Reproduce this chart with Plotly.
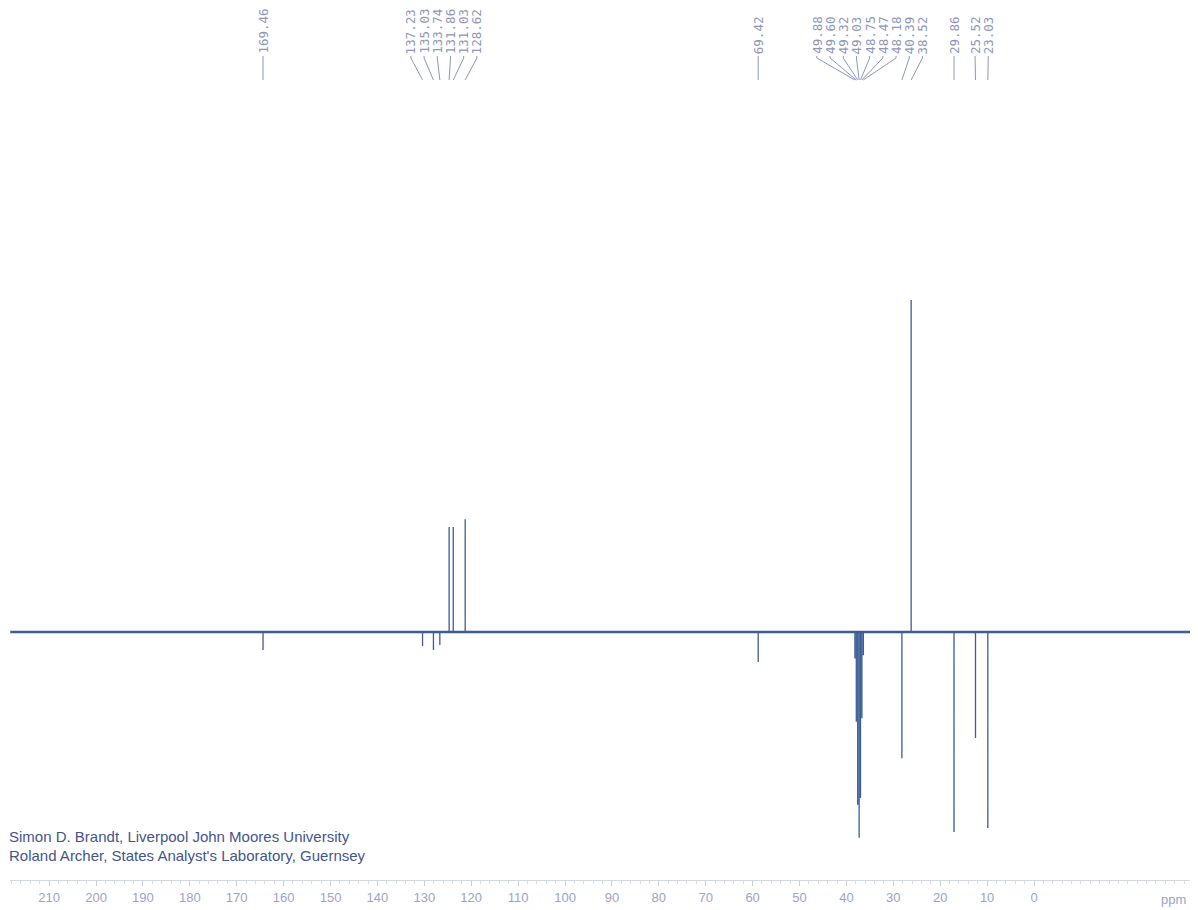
import plotly.graph_objects as go

# ---------------- data ----------------
# labelled peaks (ppm) and relative intensities (tallest = 100; negative = inverted DEPT signals)
peak_ppm = [169.46, 137.23, 135.03, 133.74, 131.86, 131.03, 128.62, 69.42,
            49.88, 49.60, 49.32, 49.03, 48.75, 48.47, 48.18, 40.39, 38.52,
            29.86, 25.52, 23.03]
peak_int = [-5.4, -4.2, -5.4, -3.9, 31.6, 31.6, 34.0, -9.0,
            -8.0, -27.0, -52.0, -62.0, -50.0, -26.0, -7.0, -38.0, 100.0,
            -60.2, -31.9, -59.0]
peak_labels = ["169.46", "137.23", "135.03", "133.74", "131.86", "131.03", "128.62", "69.42",
               "49.88", "49.60", "49.32", "49.03", "48.75", "48.47", "48.18", "40.39", "38.52",
               "29.86", "25.52", "23.03"]
spectral_window = [220.5, -17.8]          # ppm limits of the recorded spectrum
scale_ticks = [210, 200, 190, 180, 170, 160, 150, 140, 130, 120, 110,
               100, 90, 80, 70, 60, 50, 40, 30, 20, 10, 0]
credits = ["Simon D. Brandt, Liverpool John Moores University",
           "Roland Archer, States Analyst's Laboratory, Guernsey"]

# ---------------- layout constants ----------------
OFF = 8                      # page body margin
W, H = 1190, 902
X_RANGE = [220.98, -19.43]       # data axis (ppm)
SCALE_RANGE = [218.34, -33.26]   # printed scale axis
Y_RANGE = [-83.73, 187.95]
LINE_COL = "#3d5d96"
LABEL_COL = "#8e97b8"
TICK_COL = "#9aa3cc"


def py(y_screen):
    return 1 - (y_screen - OFF) / H


def px(x_screen):
    return (x_screen - OFF) / W


# ---------------- spectrum as stick line ----------------
order = sorted(range(len(peak_ppm)), key=lambda i: -peak_ppm[i])
sx, sy = [spectral_window[0]], [0]
for i in order:
    sx += [peak_ppm[i], peak_ppm[i], peak_ppm[i]]
    sy += [0, peak_int[i], 0]
sx.append(spectral_window[1]); sy.append(0)

fig = go.Figure()
fig.add_trace(go.Scatter(x=spectral_window, y=[0, 0], mode="lines",
                         line=dict(color=LINE_COL, width=2.6), hoverinfo="skip",
                         showlegend=False))
fig.add_trace(go.Scatter(x=sx, y=sy, mode="lines",
                         line=dict(color=LINE_COL, width=1.3), showlegend=False))
# invisible trace for the printed scale axis
fig.add_trace(go.Scatter(x=[scale_ticks[0], scale_ticks[-1]], y=[0, 0], xaxis="x2",
                         mode="markers", marker=dict(opacity=0), hoverinfo="skip",
                         showlegend=False))

# ---------------- label spreading ----------------
ppm_per_px = (X_RANGE[0] - X_RANGE[1]) / W
min_gap = 13.2 * ppm_per_px
groups = [[i] for i in range(len(peak_ppm))]
changed = True
while changed:
    changed = False
    new = []
    for g in groups:
        c = sum(peak_ppm[k] for k in g) / len(g)
        if new:
            pg, pc = new[-1]
            last_prev = pc - (len(pg) - 1) / 2 * min_gap
            first_cur = c + (len(g) - 1) / 2 * min_gap
            if last_prev - first_cur < min_gap - 1e-9:
                merged = pg + g
                mc = sum(peak_ppm[k] for k in merged) / len(merged)
                new[-1] = (merged, mc)
                changed = True
                continue
        new.append((g, c))
    groups = [g for g, _ in new]
label_ppm = [0.0] * len(peak_ppm)
for g in groups:
    c = sum(peak_ppm[k] for k in g) / len(g)
    for j, k in enumerate(g):
        label_ppm[k] = c + ((len(g) - 1) / 2 - j) * min_gap

# leader lines (y2 axis is in screen pixels from top)
lx, ly = [], []
for k in range(len(peak_ppm)):
    lx += [label_ppm[k], label_ppm[k], peak_ppm[k], None]
    ly += [56, 58, 80, None]
fig.add_trace(go.Scatter(x=lx, y=ly, yaxis="y2", mode="lines",
                         line=dict(color=LABEL_COL, width=1), hoverinfo="skip",
                         showlegend=False))

annotations = []
for k in range(len(peak_ppm)):
    annotations.append(dict(x=label_ppm[k], xref="x", y=py(55), yref="paper",
                            text=peak_labels[k], textangle=-90, showarrow=False,
                            xanchor="center", yanchor="bottom", borderpad=0,
                            font=dict(family="DejaVu Sans Mono", size=12.5, color=LABEL_COL)))
for j, t in enumerate(credits):
    annotations.append(dict(x=px(8), xref="paper", y=py(836 + 19 * j), yref="paper",
                            text=t, showarrow=False, xanchor="left", yanchor="middle",
                            borderpad=0,
                            font=dict(family="Liberation Sans", size=15, color="#44558c")))
annotations.append(dict(x=px(1173), xref="paper", y=py(899), yref="paper", text="ppm",
                        showarrow=False, xanchor="center", yanchor="middle",
                        font=dict(family="Liberation Sans", size=13, color=TICK_COL)))

fig.update_layout(
    width=W, height=H, margin=dict(l=0, r=0, t=0, b=0),
    paper_bgcolor="white", plot_bgcolor="rgba(0,0,0,0)",
    xaxis=dict(range=X_RANGE, visible=False, domain=[0, 1]),
    xaxis2=dict(range=SCALE_RANGE, anchor="free", position=(H - (880 - OFF)) / H,
                side="bottom", domain=[px(10), px(1190)],
                tickmode="array", tickvals=scale_ticks, ticktext=[str(v) for v in scale_ticks],
                ticks="outside", ticklen=5, tickcolor="#c8cce0", tickwidth=1,
                minor=dict(dtick=2, ticks="outside", ticklen=3, tickcolor="#d8dbe8"),
                showline=True, linecolor="#d4d7e4", linewidth=1,
                showgrid=False, zeroline=False,
                tickfont=dict(family="Liberation Sans", size=13, color=TICK_COL)),
    yaxis=dict(range=Y_RANGE, visible=False, domain=[0, 1]),
    yaxis2=dict(range=[H + OFF, OFF], overlaying="y", visible=False),
    annotations=annotations,
    showlegend=False,
)

fig.write_html("out.html")
